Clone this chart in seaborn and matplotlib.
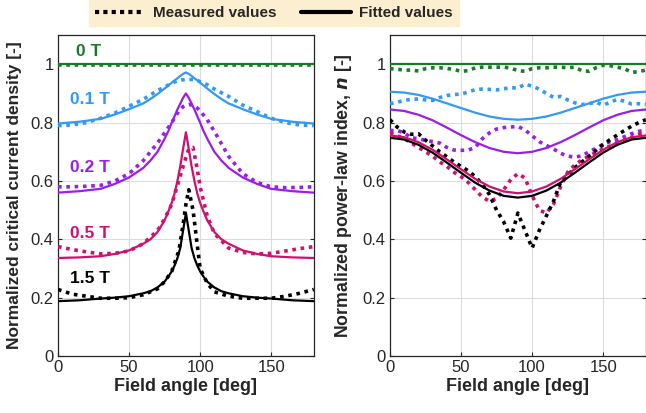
import matplotlib
matplotlib.use("Agg")
import matplotlib.pyplot as plt
import seaborn as sns
import pandas as pd
from matplotlib.lines import Line2D

# ---------------- data ----------------
fields = ["0 T", "0.1 T", "0.2 T", "0.5 T", "1.5 T"]
colors = ["#1b7a2a", "#3399f5", "#9a1ee8", "#d10f6e", "#000000"]

# Left: normalized Jc
jc_fit_theta = [0, 15, 30, 40, 50, 60, 65, 70, 75, 78, 80, 82, 84, 86, 88, 90,
                92, 94, 96, 98, 100, 102, 105, 110, 115, 120, 130, 140, 150, 165, 180]
jc_fit_0T = [1.0] * 31
jc_fit_01T = [0.797, 0.803, 0.813, 0.828, 0.846, 0.866, 0.881, 0.898, 0.917, 0.929, 0.937, 0.945, 0.952, 0.960, 0.967, 0.972,
              0.967, 0.960, 0.952, 0.945, 0.937, 0.929, 0.917, 0.898, 0.881, 0.866, 0.846, 0.828, 0.813, 0.803, 0.797]
jc_fit_02T = [0.56, 0.565, 0.573, 0.59, 0.612, 0.645, 0.67, 0.70, 0.745, 0.775, 0.80, 0.822, 0.845, 0.865, 0.885, 0.90,
              0.885, 0.865, 0.845, 0.822, 0.80, 0.775, 0.745, 0.70, 0.67, 0.645, 0.612, 0.59, 0.573, 0.565, 0.56]
jc_fit_05T = [0.336, 0.338, 0.342, 0.35, 0.362, 0.385, 0.40, 0.425, 0.465, 0.50, 0.525, 0.557, 0.60, 0.65, 0.71, 0.767,
              0.71, 0.65, 0.60, 0.557, 0.525, 0.50, 0.465, 0.425, 0.40, 0.385, 0.362, 0.35, 0.342, 0.338, 0.336]
jc_fit_15T = [0.188, 0.191, 0.197, 0.20, 0.205, 0.215, 0.222, 0.235, 0.255, 0.275, 0.29, 0.31, 0.335, 0.37, 0.43, 0.49,
              0.43, 0.37, 0.335, 0.31, 0.29, 0.275, 0.255, 0.235, 0.222, 0.215, 0.205, 0.20, 0.197, 0.191, 0.188]

jc_meas_theta = [0, 10, 20, 30, 40, 50, 60, 70, 75, 80, 85, 88, 90, 92, 95, 98, 100, 105, 110, 120, 130, 140, 150, 160, 170, 180]
jc_meas_0T = [0.997] * 26
jc_meas_01T = [0.79, 0.792, 0.80, 0.815, 0.833, 0.856, 0.88, 0.91, 0.922, 0.935, 0.945, 0.947, 0.948,
               0.948, 0.948, 0.945, 0.94, 0.93, 0.915, 0.89, 0.86, 0.838, 0.815, 0.80, 0.792, 0.79]
jc_meas_02T = [0.58, 0.58, 0.582, 0.585, 0.60, 0.625, 0.67, 0.73, 0.765, 0.80, 0.84, 0.855, 0.86,
               0.862, 0.86, 0.85, 0.84, 0.81, 0.77, 0.685, 0.625, 0.595, 0.58, 0.577, 0.578, 0.58]
jc_meas_05T = [0.375, 0.365, 0.357, 0.35, 0.352, 0.36, 0.385, 0.43, 0.47, 0.52, 0.60, 0.65, 0.68,
               0.71, 0.715, 0.64, 0.58, 0.48, 0.42, 0.37, 0.355, 0.35, 0.352, 0.36, 0.368, 0.375]
jc_meas_15T = [0.228, 0.212, 0.205, 0.198, 0.198, 0.20, 0.21, 0.23, 0.255, 0.29, 0.36, 0.45, 0.52,
               0.57, 0.50, 0.38, 0.30, 0.25, 0.22, 0.205, 0.198, 0.198, 0.198, 0.205, 0.215, 0.228]

# Right: normalized n-value
n_fit_theta = [0, 10, 20, 30, 40, 50, 60, 70, 80, 90, 100, 110, 120, 130, 140, 150, 160, 170, 180]
n_fit_0T = [1.0] * 19
n_fit_01T = [0.906, 0.903, 0.895, 0.882, 0.866, 0.850, 0.834, 0.821, 0.813, 0.810,
             0.813, 0.821, 0.834, 0.850, 0.866, 0.882, 0.895, 0.903, 0.906]
n_fit_02T = [0.845, 0.840, 0.827, 0.808, 0.783, 0.757, 0.733, 0.713, 0.700, 0.695,
             0.700, 0.713, 0.733, 0.757, 0.783, 0.808, 0.827, 0.840, 0.845]
n_fit_05T = [0.756, 0.750, 0.733, 0.707, 0.674, 0.640, 0.607, 0.581, 0.564, 0.558,
             0.564, 0.581, 0.607, 0.640, 0.674, 0.707, 0.733, 0.750, 0.756]
n_fit_15T = [0.748, 0.742, 0.724, 0.697, 0.663, 0.628, 0.594, 0.567, 0.549, 0.543,
             0.549, 0.567, 0.594, 0.628, 0.663, 0.697, 0.724, 0.742, 0.748]

n_meas_theta = [0, 5, 10, 15, 20, 25, 30, 35, 40, 45, 50, 55, 60, 65, 70, 75, 80, 85, 90,
                95, 100, 105, 110, 115, 120, 125, 130, 135, 140, 145, 150, 155, 160, 165, 170, 175, 180]
n_meas_0T = [0.985, 0.983, 0.98, 0.98, 0.977, 0.985, 0.988, 0.988, 0.986, 0.982, 0.976, 0.978, 0.988,
             0.99, 0.99, 0.99, 0.99, 0.987, 0.978, 0.976, 0.985, 0.988, 0.988, 0.99, 0.99, 0.988,
             0.99, 0.978, 0.976, 0.988, 0.997, 0.995, 0.99, 0.985, 0.972, 0.975, 0.98]
n_meas_01T = [0.865, 0.87, 0.876, 0.88, 0.881, 0.878, 0.876, 0.886, 0.893, 0.896, 0.898, 0.905, 0.913,
              0.915, 0.914, 0.912, 0.916, 0.92, 0.918, 0.932, 0.925, 0.915, 0.90, 0.887, 0.89, 0.878,
              0.868, 0.862, 0.865, 0.87, 0.86, 0.87, 0.88, 0.873, 0.864, 0.865, 0.862]
n_meas_02T = [0.773, 0.773, 0.765, 0.748, 0.745, 0.739, 0.735, 0.73, 0.715, 0.706, 0.705, 0.706, 0.715,
              0.745, 0.765, 0.778, 0.783, 0.785, 0.787, 0.775, 0.755, 0.735, 0.722, 0.71, 0.695, 0.685,
              0.682, 0.686, 0.70, 0.712, 0.726, 0.735, 0.742, 0.752, 0.762, 0.77, 0.775]
n_meas_05T = [0.765, 0.755, 0.745, 0.73, 0.715, 0.70, 0.685, 0.665, 0.65, 0.63, 0.615, 0.595, 0.57,
              0.545, 0.53, 0.54, 0.57, 0.605, 0.625, 0.61, 0.55, 0.50, 0.49, 0.52, 0.58, 0.63,
              0.655, 0.672, 0.685, 0.698, 0.71, 0.72, 0.73, 0.74, 0.75, 0.76, 0.77]
n_meas_15T = [0.81, 0.785, 0.768, 0.76, 0.762, 0.74, 0.72, 0.70, 0.683, 0.665, 0.65, 0.635, 0.615,
              0.588, 0.553, 0.50, 0.46, 0.404, 0.49, 0.43, 0.37, 0.43, 0.48, 0.53, 0.595, 0.62,
              0.645, 0.665, 0.685, 0.705, 0.725, 0.742, 0.758, 0.773, 0.788, 0.80, 0.81]

jc_fit = [jc_fit_0T, jc_fit_01T, jc_fit_02T, jc_fit_05T, jc_fit_15T]
jc_meas = [jc_meas_0T, jc_meas_01T, jc_meas_02T, jc_meas_05T, jc_meas_15T]
n_fit = [n_fit_0T, n_fit_01T, n_fit_02T, n_fit_05T, n_fit_15T]
n_meas = [n_meas_0T, n_meas_01T, n_meas_02T, n_meas_05T, n_meas_15T]

label_x = [13, 8.4, 8.4, 8.4, 8.4]
label_y = [1.045, 0.88, 0.647, 0.42, 0.267]

# ---------------- plot ----------------
sns.set_theme(style="white")
plt.rcParams["font.family"] = ["Liberation Sans", "DejaVu Sans"]

fig = plt.figure(figsize=(6.46, 4.13), dpi=100)
axL = fig.add_axes([0.0898, 0.138, 0.396, 0.777])
axR = fig.add_axes([0.6037, 0.138, 0.396, 0.777])

dot = (0, (1.0, 1.3))
lw_d = 2.6
lw_s = 1.6

for i, f in enumerate(fields):
    df = pd.DataFrame({"theta": jc_meas_theta, "v": jc_meas[i]})
    sns.lineplot(data=df, x="theta", y="v", ax=axL, color=colors[i], lw=lw_d,
                 linestyle=dot, zorder=3)
    df = pd.DataFrame({"theta": jc_fit_theta, "v": jc_fit[i]})
    sns.lineplot(data=df, x="theta", y="v", ax=axL, color=colors[i], lw=lw_s, zorder=4)
    df = pd.DataFrame({"theta": n_meas_theta, "v": n_meas[i]})
    sns.lineplot(data=df, x="theta", y="v", ax=axR, color=colors[i], lw=lw_d,
                 linestyle=dot, zorder=3)
    df = pd.DataFrame({"theta": n_fit_theta, "v": n_fit[i]})
    sns.lineplot(data=df, x="theta", y="v", ax=axR, color=colors[i], lw=lw_s, zorder=4)
    axL.text(label_x[i], label_y[i], f, color=colors[i], fontsize=12.5,
             fontweight="bold", va="center", ha="left")

for ax in (axL, axR):
    ax.set_xlim(0, 180)
    ax.set_ylim(0, 1.1)
    ax.set_xticks([0, 50, 100, 150])
    ax.set_yticks([0, 0.2, 0.4, 0.6, 0.8, 1.0])
    ax.set_yticklabels(["0", "0.2", "0.4", "0.6", "0.8", "1"])
    ax.grid(True, color="#dcdcdc", lw=0.8)
    ax.tick_params(direction="in", length=3, width=0.8, labelsize=12, colors="#262626",
                   right=True, left=True, bottom=True, top=False, pad=3)
    for s in ax.spines.values():
        s.set_color("#262626")
        s.set_linewidth(0.9)
    ax.set_xlabel("Field angle [deg]", fontsize=13, fontweight="bold", color="#262626", labelpad=2)

axL.set_ylabel("Normalized critical current density [-]", fontsize=12.5, fontweight="bold",
               color="#262626", labelpad=6)
axR.set_ylabel(r"Normalized power-law index, $\boldsymbol{n}$ [-]", fontsize=12.8,
               fontweight="bold", color="#262626", labelpad=6)

handles = [Line2D([], [], color="black", lw=3.0, linestyle=(0, (1.0, 1.0))),
           Line2D([], [], color="black", lw=3.0)]
leg = fig.legend(handles, ["Measured values", "Fitted values"], loc="upper center",
                 bbox_to_anchor=(0.424, 1.0), ncol=2, frameon=True, fancybox=False,
                 facecolor="#fcefcf", edgecolor="#fcefcf", framealpha=1,
                 prop={"weight": "bold", "size": 11},
                 handlelength=3.3, columnspacing=1.6, borderpad=0.4, handletextpad=0.5,
                 borderaxespad=0.0)

fig.savefig("out.png", dpi=100)
